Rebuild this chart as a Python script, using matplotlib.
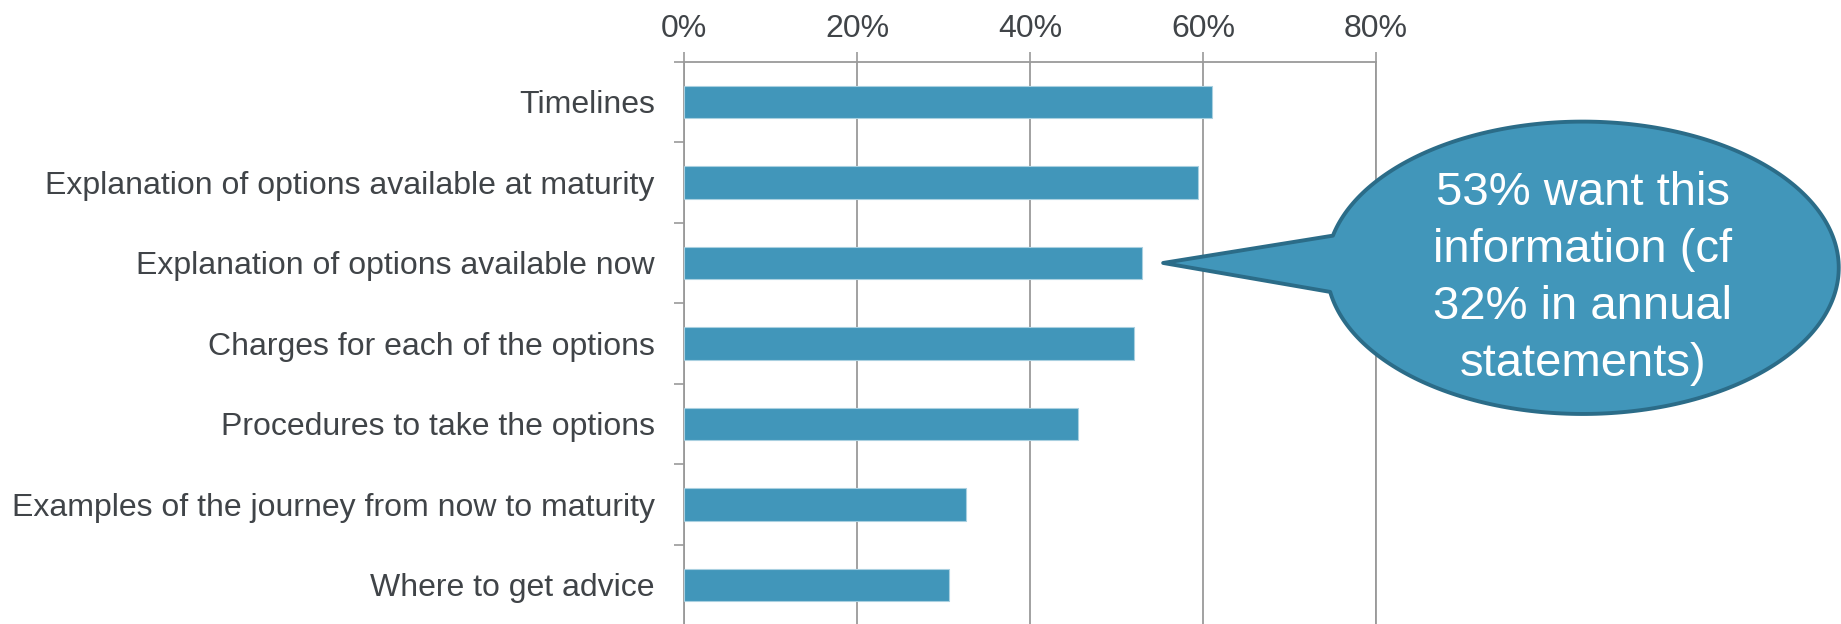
import numpy as np
import matplotlib
matplotlib.use("Agg")
import matplotlib.pyplot as plt
from matplotlib.patches import Polygon
from matplotlib.ticker import FuncFormatter, FixedLocator

plt.rcParams['font.family'] = ['Liberation Sans', 'DejaVu Sans']

## survey data (share of respondents, %)
items = ["Timelines",
         "Explanation of options available at maturity",
         "Explanation of options available now",
         "Charges for each of the options",
         "Procedures to take the options",
         "Examples of the journey from now to maturity",
         "Where to get advice"]
share = [61.0, 59.4, 53.0, 52.0, 45.6, 32.6, 30.6]
xticks = [0, 20, 40, 60, 80]

callout_text = "53% want this\ninformation (cf\n32% in annual\nstatements)"
callout_item = 2

bar_col = "#4196BA"
edge_col = "#2B6C88"
txt_col = "#404448"
grid_col = "#9A9A9A"

fig = plt.figure(figsize=(18.41, 6.24), dpi=100)
ax = fig.add_axes([0.3715, -0.0019, 0.3759, 0.9030])

ypos = np.arange(len(items))
ax.barh(ypos, share, height=0.4, color=bar_col, edgecolor="#A9D0E0", linewidth=0.8, zorder=3)

ax.set_xlim(0, 80)
ax.set_ylim(len(items) - 0.5, -0.5)

# x axis on top, percent labels
ax.xaxis.tick_top()
ax.xaxis.set_major_locator(FixedLocator(xticks))
ax.xaxis.set_major_formatter(FuncFormatter(lambda v, p: f"{v:.0f}%"))
ax.tick_params(axis="x", which="major", length=7.2, width=1.2, color=grid_col,
               labelsize=23, labelcolor=txt_col, pad=5.3)
ax.grid(axis="x", color=grid_col, linewidth=1.3, zorder=0)

# y: tick marks between categories, labels at the centres
ax.yaxis.set_major_locator(FixedLocator(np.arange(-0.5, len(items) - 0.5, 1.0)))
ax.yaxis.set_major_formatter(FuncFormatter(lambda v, p: ""))
ax.yaxis.set_minor_locator(FixedLocator(ypos))
ax.set_yticklabels(items, minor=True)
ax.tick_params(axis="y", which="major", length=7.2, width=1.2, color=grid_col)
ax.tick_params(axis="y", which="minor", length=0, labelsize=23, labelcolor=txt_col, pad=21)

for s in ["top", "left", "right"]:
    ax.spines[s].set_color(grid_col)
    ax.spines[s].set_linewidth(1.3)
ax.spines["bottom"].set_visible(False)

# speech-bubble callout pointing at the "available now" bar
cx, cy = 103.9, 2.06        # ellipse centre (data units)
ra, rb = 29.6, 1.816        # semi-axes
t_up = np.deg2rad(-167.3)
t_lo = np.deg2rad(170.5)
th = np.linspace(t_up, t_lo, 300)
pts = np.column_stack([cx + ra * np.cos(th), cy + rb * np.sin(th)])
tip = (share[callout_item] + 2.4, callout_item)
pts = np.vstack([pts, tip])
bubble = Polygon(pts, closed=True, facecolor=bar_col, edgecolor=edge_col,
                 linewidth=2.8, joinstyle="round", clip_on=False, zorder=5)
ax.add_patch(bubble)
ax.text(cx, cy + 0.13, callout_text, ha="center", va="center", multialignment="center",
        fontsize=34, color="white", linespacing=1.38, zorder=6, clip_on=False)

fig.savefig("out.png", dpi=100)
